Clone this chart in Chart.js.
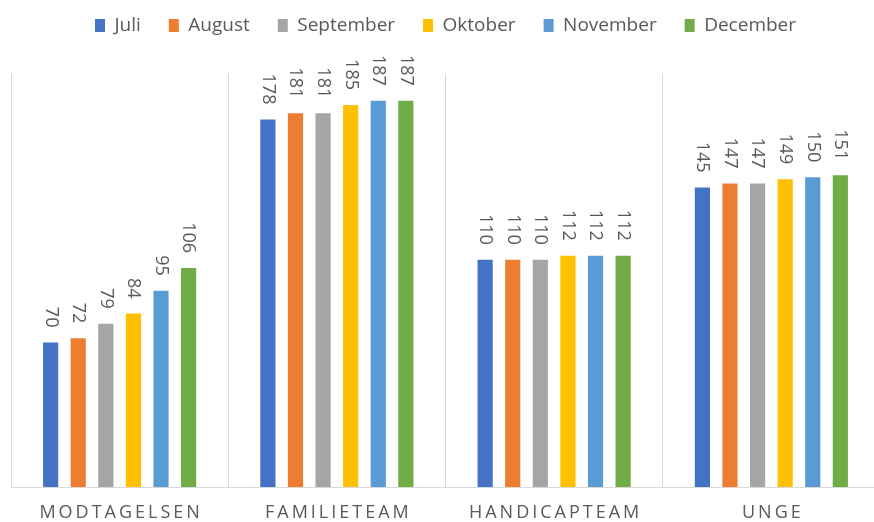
<!DOCTYPE html>
<html>
<head>
<meta charset="utf-8">
<script src="https://cdn.jsdelivr.net/npm/chart.js@4/dist/chart.umd.min.js"></script>
<style>
  html, body { margin: 0; padding: 0; background: #fff; overflow: hidden; }
  #wrap { width: 886px; height: 522px; position: relative; }
</style>
</head>
<body>
<div id="wrap"><canvas id="chart"></canvas></div>
<script>
// Data
const categories = ['MODTAGELSEN', 'FAMILIETEAM', 'HANDICAPTEAM', 'UNGE'];
const months = ['Juli', 'August', 'September', 'Oktober', 'November', 'December'];
const juli = [70, 178, 110, 145];
const august = [72, 181, 110, 147];
const september = [79, 181, 110, 147];
const oktober = [84, 185, 112, 149];
const november = [95, 187, 112, 150];
const december = [106, 187, 112, 151];
const seriesColors = ['#4472C4', '#ED7D31', '#A5A5A5', '#FFC000', '#5B9BD5', '#70AD47'];

const textGray = '#595959';
const gridGray = '#d9d9d9';
const fontFamily = '"Open Sans", sans-serif';

const seriesValues = [juli, august, september, oktober, november, december];

// etiketter over søjlerne, roteret 90 grader
const barLabels = {
    id: 'barLabels',
    afterDatasetsDraw(chart) {
        const ctx = chart.ctx;
        ctx.save();
        ctx.font = '18px ' + fontFamily;
        ctx.fillStyle = textGray;
        ctx.textAlign = 'right';
        ctx.textBaseline = 'middle';
        chart.data.datasets.forEach((ds, i) => {
            chart.getDatasetMeta(i).data.forEach((bar, j) => {
                ctx.save();
                ctx.translate(bar.x, bar.y - 15);
                ctx.rotate(Math.PI / 2);
                ctx.fillText(String(ds.data[j]), 0, 0);
                ctx.restore();
            });
        });
        ctx.restore();
    }
};

// kategorinavne med spærret skrift
const categoryLabels = {
    id: 'categoryLabels',
    afterDraw(chart) {
        const ctx = chart.ctx;
        const xScale = chart.scales.x;
        ctx.save();
        ctx.font = '18px ' + fontFamily;
        ctx.fillStyle = textGray;
        ctx.letterSpacing = '3px';
        ctx.textAlign = 'center';
        ctx.textBaseline = 'middle';
        categories.forEach((c, i) => {
            ctx.fillText(c, xScale.getPixelForValue(i) + 1.5, 513);
        });
        ctx.restore();
    }
};

const legendHeight = {
    id: 'legendHeight',
    beforeInit(chart) {
        const fit = chart.legend.fit;
        chart.legend.fit = function () {
            fit.bind(chart.legend)();
            this.height = 86;
        };
    }
};

new Chart(document.getElementById('chart'), {
    type: 'bar',
    data: {
        labels: categories,
        datasets: months.map((m, i) => ({
            label: m,
            data: seriesValues[i],
            backgroundColor: seriesColors[i],
            borderWidth: 0,
            categoryPercentage: 0.762,
            barPercentage: 0.55
        }))
    },
    options: {
        responsive: true,
        maintainAspectRatio: false,
        animation: false,
        layout: { padding: { left: 11, right: 6, top: -12, bottom: 35 } },
        plugins: {
            legend: {
                position: 'top',
                labels: {
                    color: textGray,
                    font: { family: fontFamily, size: 19 },
                    boxWidth: 10,
                    boxHeight: 13,
                    padding: 28
                }
            },
            tooltip: { enabled: false }
        },
        scales: {
            x: {
                grid: { color: gridGray, drawTicks: false, offset: true },
                border: { color: gridGray },
                ticks: { display: false }
            },
            y: {
                display: false,
                min: 0,
                max: 200
            }
        }
    },
    plugins: [barLabels, categoryLabels, legendHeight]
});
</script>
</body>
</html>
